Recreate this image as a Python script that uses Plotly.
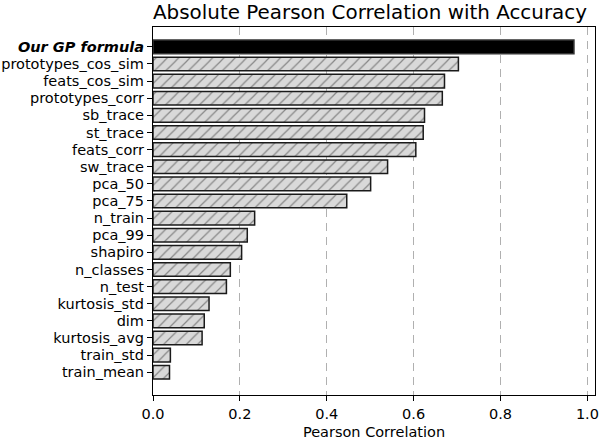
import plotly.graph_objects as go

features = ["Our GP formula", "prototypes_cos_sim", "feats_cos_sim", "prototypes_corr",
            "sb_trace", "st_trace", "feats_corr", "sw_trace", "pca_50", "pca_75",
            "n_train", "pca_99", "shapiro", "n_classes", "n_test", "kurtosis_std",
            "dim", "kurtosis_avg", "train_std", "train_mean"]
correlations = [0.969, 0.703, 0.671, 0.666, 0.625, 0.622, 0.605, 0.540, 0.501, 0.446,
                0.234, 0.217, 0.204, 0.178, 0.169, 0.129, 0.118, 0.113, 0.040, 0.038]
x_ticks = [0.0, 0.2, 0.4, 0.6, 0.8, 1.0]

pos = list(range(len(features)))
ticktext = ["<b><i>" + f + "</i></b>" if i == 0 else f for i, f in enumerate(features)]

fig = go.Figure()
fig.add_trace(go.Bar(
    x=correlations[1:], y=pos[1:], orientation="h", width=0.8,
    marker=dict(color="#d9d9d9", line=dict(color="#1a1a1a", width=1.5),
                pattern=dict(shape="/", fgcolor="#333333", bgcolor="#d9d9d9",
                             size=8, solidity=0.15)),
    showlegend=False, hoverinfo="skip",
))
fig.add_trace(go.Bar(
    x=correlations[:1], y=pos[:1], orientation="h", width=0.8,
    marker=dict(color="black", line=dict(color="#333333", width=1.5)),
    showlegend=False, hoverinfo="skip",
))

xmax = max(correlations) * 1.05
fig.update_layout(
    width=600, height=440,
    margin=dict(l=153, r=5, t=27, b=45, autoexpand=False),
    paper_bgcolor="white", plot_bgcolor="white",
    font=dict(family="DejaVu Sans", size=14.5, color="black"),
    title=dict(text="Absolute Pearson Correlation with Accuracy", x=370 / 600,
               xanchor="center", xref="container", yref="container",
               y=1 - 12.5 / 440, yanchor="middle",
               font=dict(size=19.9), automargin=False),
    bargap=0.2,
)
fig.update_xaxes(
    range=[0, xmax], tickvals=x_ticks, ticktext=[f"{v:.1f}" for v in x_ticks],
    showgrid=True, gridcolor="#b0b0b0", griddash="8px,6px", gridwidth=1.3,
    zeroline=False, showline=True, linecolor="black", linewidth=1.2, mirror=True,
    ticks="outside", ticklen=5, tickcolor="black", automargin=False,
    title=dict(text="Pearson Correlation", standoff=6, font=dict(size=14.5)),
)
fig.update_yaxes(
    range=[len(features) - 1 + 1.33, -1.16], tickvals=pos, ticktext=ticktext,
    showgrid=False, zeroline=False, showline=True, linecolor="black", linewidth=1.2,
    mirror=True, ticks="outside", ticklen=5, tickcolor="black", automargin=False,
)
fig.write_html("out.html", config={"displayModeBar": False},
               post_script="document.body.style.margin='0';")
